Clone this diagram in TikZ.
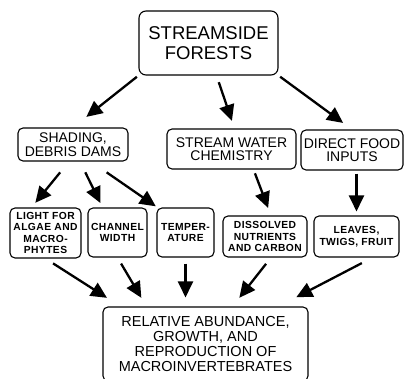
\documentclass[tikz,border=0pt]{standalone}
\usepackage{fontspec}
\setmainfont{Liberation Sans}
\usetikzlibrary{arrows.meta}

\begin{document}
\begin{tikzpicture}[x=1pt,y=-1pt,
  box/.style={draw,line width=1.1pt,rounded corners=5pt,align=center,inner sep=1pt},
  big/.style={box,rounded corners=7pt,font=\fontsize{18.5}{20}\selectfont},
  mid/.style={box,font=\fontsize{14}{13.5}\selectfont},
  small/.style={box,font=\fontsize{10.3}{11.5}\selectfont\bfseries\addfontfeature{LetterSpace=4}},
  arr/.style={line width=2.3pt,-{Triangle[length=16pt,width=15pt]}}]
\useasboundingbox (0,0) rectangle (404,379);
\node[big,minimum width=139pt,minimum height=64pt] (a) at (208.5,43) {STREAMSIDE\\FORESTS};
\node[mid,minimum width=110pt,minimum height=33pt] (b) at (73,144.5) {SHADING,\\DEBRIS DAMS};
\node[mid,minimum width=129pt,minimum height=40pt] (c) at (231.5,149) {STREAM WATER\\CHEMISTRY};
\node[mid,minimum width=102pt,minimum height=40pt] (d) at (352,150) {DIRECT FOOD\\INPUTS};
\node[small,minimum width=71pt,minimum height=50pt] (e) at (45.5,233) {LIGHT FOR\\ALGAE AND\\MACRO-\\PHYTES};
\node[small,minimum width=59pt,minimum height=49pt] (f) at (117.5,232.5) {CHANNEL\\WIDTH};
\node[small,minimum width=57pt,minimum height=49pt] (g) at (185.5,232.5) {TEMPER-\\ATURE};
\node[small,minimum width=84pt,minimum height=41pt] (h) at (265,236.5) {DISSOLVED\\NUTRIENTS\\AND CARBON};
\node[small,minimum width=85pt,minimum height=41pt] (i) at (356.5,236.5) {LEAVES,\\TWIGS, FRUIT};
\node[box,font=\fontsize{14.5}{15}\selectfont,minimum width=205pt,minimum height=74pt] (j) at (205.5,344) {RELATIVE ABUNDANCE,\\GROWTH, AND\\REPRODUCTION OF\\MACROINVERTEBRATES};
\draw[arr,shorten <=2pt,shorten >=17pt] (a.south west) -- (b.north);
\draw[arr,shorten <=7pt,shorten >=8pt] ([xshift=8pt]a.south) -- ([xshift=3pt]c.north);
\draw[arr,shorten <=2pt,shorten >=11pt] (a.south east) -- (d.north);
\draw[arr,shorten <=14pt,shorten >=6pt] ([xshift=-4pt]b.south) -- ([xshift=-14pt]e.north);
\draw[arr,shorten <=12pt,shorten >=5pt] ([xshift=7pt]b.south) -- ([xshift=-15pt]f.north);
\draw[arr,shorten <=19pt,shorten >=2pt] ([xshift=18pt]b.south) -- ([xshift=1pt]g.north west);
\draw[arr,shorten <=4pt,shorten >=8pt] ([xshift=22pt]c.south) -- ([xshift=6pt]h.north);
\draw[arr,shorten <=3pt,shorten >=4pt] (i.north |- d.south) -- (i.north);
\draw[arr,shorten <=9pt,shorten >=16pt] (e.south) -- ([xshift=18pt]j.north west);
\draw[arr,shorten <=7pt,shorten >=10pt] (f.south) -- ([xshift=44pt]j.north west);
\draw[arr,shorten <=6pt,shorten >=9pt] (g.south) -- (g.south |- j.north);
\draw[arr,shorten <=8pt,shorten >=11pt] ([xshift=6pt]h.south) -- ([xshift=27pt]j.north);
\draw[arr,shorten <=12pt,shorten >=20pt] ([xshift=16pt]i.south) -- ([xshift=-30pt]j.north east);
\end{tikzpicture}
\end{document}
